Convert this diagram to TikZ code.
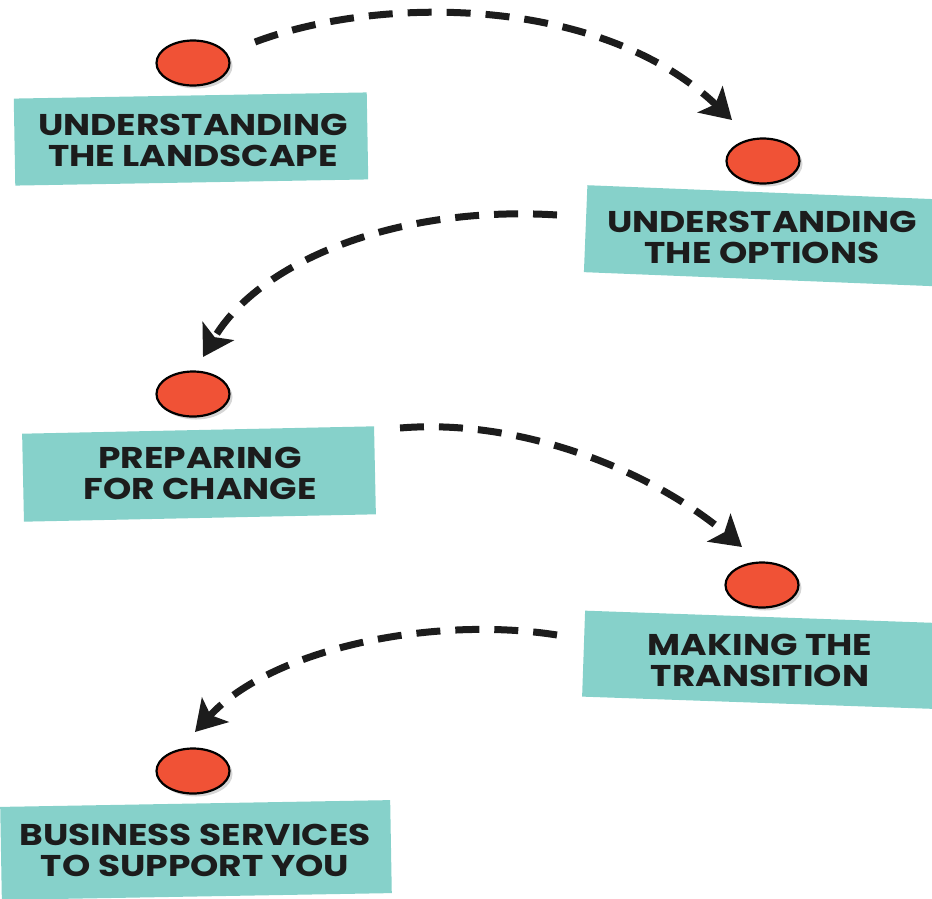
\documentclass[tikz,border=0pt]{standalone}
\usepackage{fontspec}
\setmainfont{Poppins}[FakeStretch=1.2]
\usetikzlibrary{arrows.meta,shapes.geometric,shadows}
\definecolor{boxteal}{HTML}{86D1CA}
\definecolor{dotred}{HTML}{F05236}
\definecolor{textblack}{HTML}{1C1C1C}
\definecolor{shadowgray}{HTML}{D6D6D6}
\begin{document}
\begin{tikzpicture}[x=1pt,y=-1pt,
  stepbox/.style={fill=boxteal, draw=none, inner sep=0, rectangle},
  dot/.style={ellipse, draw=black, line width=2.2pt, fill=dotred, minimum width=73pt, minimum height=45pt, inner sep=0,
    drop shadow={shadow xshift=3pt, shadow yshift=-3pt, fill=shadowgray, opacity=1}},
  steplabel/.style={font=\bfseries\fontsize{30}{31}\selectfont, align=center, text=textblack, inner sep=0},
  flow/.style={line width=7pt, dash pattern=on 24pt off 15pt, draw=textblack,
    -{Stealth[length=30pt,width=36pt,inset=7pt]}}]
\useasboundingbox (0,0) rectangle (932,898);
\clip (0,0) rectangle (932,898);

% boxes
\node[stepbox, minimum width=353pt, minimum height=87pt, rotate=1] (b1) at (191,139) {};
\node[stepbox, minimum width=365pt, minimum height=87pt, rotate=-2.3] (b2) at (768,236) {};
\node[stepbox, minimum width=352pt, minimum height=88pt, rotate=1.2] (b3) at (199,474) {};
\node[stepbox, minimum width=365pt, minimum height=86pt, rotate=-2] (b4) at (766,660) {};
\node[stepbox, minimum width=390pt, minimum height=93pt, rotate=1] (b5) at (196,850) {};

% dots
\node[dot] (c1) at (193,63) {};
\node[dot] (c2) at (763,161) {};
\node[dot] (c3) at (193,394) {};
\node[dot] (c4) at (762,585) {};
\node[dot] (c5) at (193,771) {};

% labels
\node[steplabel] (t1) at (193,140) {UNDERSTANDING\\THE LANDSCAPE};
\node[steplabel] (t2) at (762,237) {UNDERSTANDING\\THE OPTIONS};
\node[steplabel] (t3) at (200,473) {PREPARING\\FOR CHANGE};
\node[steplabel] (t4) at (760,660) {MAKING THE\\TRANSITION};
\node[steplabel] (t5) at (195,850) {BUSINESS SERVICES\\TO SUPPORT YOU};

% connector ends
\coordinate (s1) at (255,42);   \coordinate (e1) at (732,120);
\coordinate (s2) at (557,215);  \coordinate (e2) at (203,357);
\coordinate (s3) at (400,428);  \coordinate (e3) at (742,547);
\coordinate (s4) at (557,635);  \coordinate (e4) at (195,732);

\draw[flow] (s1) .. controls (380,-5) and (600,-5) .. (e1);
\draw[flow] (s2) .. controls (400,205) and (260,260) .. (e2);
\draw[flow] (s3) .. controls (520,418) and (650,470) .. (e3);
\draw[flow] (s4) .. controls (430,615) and (270,650) .. (e4);
\end{tikzpicture}
\end{document}
